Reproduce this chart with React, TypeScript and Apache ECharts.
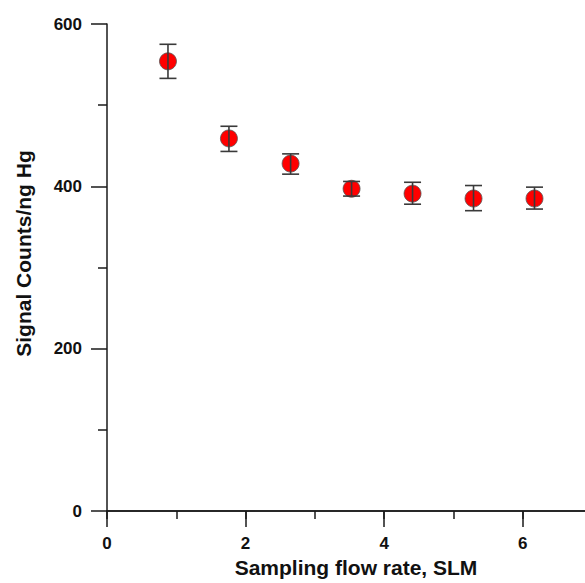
import React, { useEffect, useRef } from "react";
import * as echarts from "echarts";

const flowRates = [0.88, 1.76, 2.65, 3.53, 4.41, 5.29, 6.17];
const signalCounts = [554, 459, 428, 397, 391, 385, 385];
const errorLow = [533, 443, 415, 388, 378, 370, 372];
const errorHigh = [575, 474, 440, 406, 405, 401, 399];
const xTickLabels = ["0", "2", "4", "6"];
const yTickLabels = ["0", "200", "400", "600"];

const FONT = "Liberation Sans, Arial, Helvetica, sans-serif";
const AXIS_COLOR = "#1a1a1a";

export default function App() {
  const ref = useRef<HTMLDivElement>(null);
  useEffect(() => {
    if (!ref.current) return;
    const chart = echarts.init(ref.current, undefined, { renderer: "svg" });
    const points = flowRates.map((x, i) => [x, signalCounts[i]]);
    const errs = flowRates.map((x, i) => [x, errorLow[i], errorHigh[i]]);
    const axisCommon = {
      type: "value" as const,
      min: 0,
      max: 7,
      position: "bottom" as const,
      axisLine: { show: true, lineStyle: { color: AXIS_COLOR, width: 1.5 } },
      splitLine: { show: false },
    };
    chart.setOption({
      animation: false,
      backgroundColor: "#ffffff",
      grid: { left: 107, right: 0, top: 24, bottom: 72, containLabel: false },
      xAxis: [
        {
          ...axisCommon,
          interval: 2,
          axisTick: { show: true, length: 16, inside: false, lineStyle: { color: AXIS_COLOR, width: 1.5 } },
          axisLabel: {
            show: true,
            margin: 24,
            showMaxLabel: false,
            color: "#111",
            fontFamily: FONT,
            fontWeight: "bold",
            fontSize: 17,
            formatter: (v: number) => (xTickLabels.includes(String(v)) ? String(v) : ""),
          },
          name: "Sampling flow rate, SLM",
          nameLocation: "middle",
          nameGap: 46,
          nameTextStyle: {
            color: "#111",
            fontFamily: FONT,
            fontWeight: "bold",
            fontSize: 21,
            padding: [0, 0, 0, 13],
          },
        },
        {
          ...axisCommon,
          interval: 1,
          axisTick: { show: true, length: 8, inside: false, lineStyle: { color: AXIS_COLOR, width: 1.5 } },
          axisLabel: { show: false },
        },
      ],
      yAxis: {
        type: "value",
        min: 0,
        max: 600,
        interval: 200,
        axisLine: { show: true, lineStyle: { color: AXIS_COLOR, width: 1.5 } },
        axisTick: { show: true, length: 16, lineStyle: { color: AXIS_COLOR, width: 1.5 } },
        minorTick: { show: true, splitNumber: 2, length: 9, lineStyle: { color: AXIS_COLOR, width: 1.5 } },
        splitLine: { show: false },
        minorSplitLine: { show: false },
        axisLabel: {
          margin: 25,
          color: "#111",
          fontFamily: FONT,
          fontWeight: "bold",
          fontSize: 17,
          formatter: (v: number) => (yTickLabels.includes(String(v)) ? String(v) : ""),
        },
        name: "Signal Counts/ng Hg",
        nameLocation: "middle",
        nameGap: 73,
        nameTextStyle: {
          color: "#111",
          fontFamily: FONT,
          fontWeight: "bold",
          fontSize: 21,
          padding: [0, 0, 0, 28],
        },
      },
      series: [
        {
          type: "custom",
          xAxisIndex: 0,
          data: errs,
          z: 3,
          renderItem: (params: any, api: any) => {
            const x = api.value(0);
            const lo = api.coord([x, api.value(1)]);
            const hi = api.coord([x, api.value(2)]);
            const half = 8.5;
            const style = { stroke: "#3a3a3a", lineWidth: 1.6 };
            return {
              type: "group",
              children: [
                { type: "line", shape: { x1: lo[0], y1: lo[1], x2: hi[0], y2: hi[1] }, style },
                { type: "line", shape: { x1: hi[0] - half, y1: hi[1], x2: hi[0] + half, y2: hi[1] }, style },
                { type: "line", shape: { x1: lo[0] - half, y1: lo[1], x2: lo[0] + half, y2: lo[1] }, style },
              ],
            };
          },
        },
        {
          type: "scatter",
          xAxisIndex: 0,
          data: points,
          symbol: "circle",
          symbolSize: 17,
          z: 2,
          itemStyle: { color: "#ff0000", borderColor: "#555", borderWidth: 0.8, opacity: 1 },
        },
      ],
    });
    return () => chart.dispose();
  }, []);
  return (
    <div style={{ position: "fixed", left: 0, top: 0, width: 585, height: 583, overflow: "hidden", background: "#fff" }}>
      <div ref={ref} style={{ position: "absolute", left: 0, top: 0, width: 592, height: 583 }} />
    </div>
  );
}
